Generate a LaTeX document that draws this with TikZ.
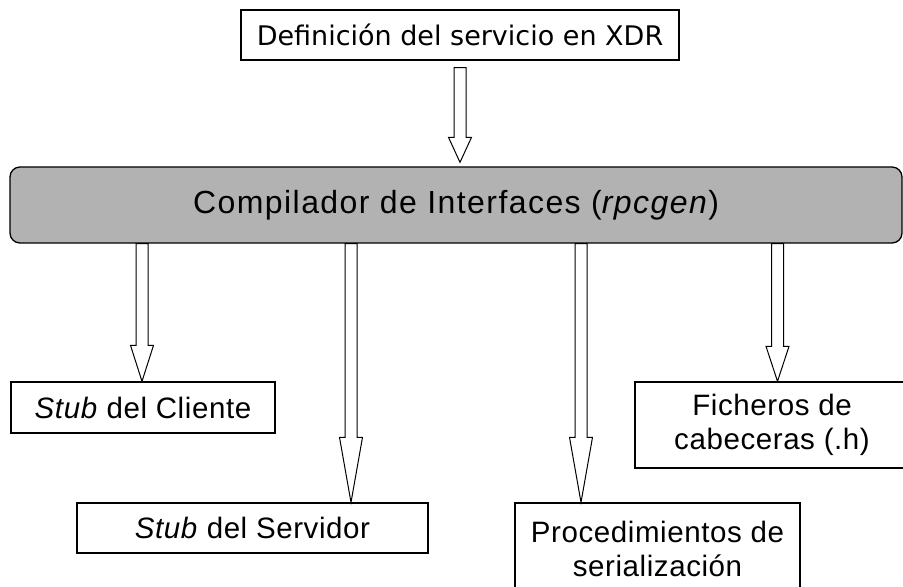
\documentclass[tikz,border=0pt]{standalone}
\usepackage{fontspec}
\setmainfont{Liberation Sans}[LetterSpace=2]
\newfontfamily\xdrfont{DejaVu Sans}
\newfontfamily\compfont{Liberation Sans}[LetterSpace=4.5]
\usetikzlibrary{calc}
\definecolor{grisbloque}{RGB}{178,178,178}
\tikzset{
  caja/.style={draw,line width=1.3bp,fill=white,inner sep=0pt,align=center,
    font=\fontsize{29.5bp}{34bp}\selectfont},
  flechahueca/.style={draw,line width=1bp,fill=white,line join=miter}
}
\begin{document}
\begin{tikzpicture}[x=1bp,y=-1bp]
                \def\flecha(#1,#2,#3,#4){\draw[flechahueca] let \p1=(#2),\p2=(#3) in
                    (#1bp-6bp,\y1)--(#1bp-6bp,\y2+#4bp)--(#1bp-11.5bp,\y2+#4bp)--(#1bp,\y2)
                    --(#1bp+11.5bp,\y2+#4bp)--(#1bp+6bp,\y2+#4bp)--(#1bp+6bp,\y1)--cycle;}
                \useasboundingbox (0,0) rectangle (903,587);
                \clip (0,0) rectangle (903,587);
                %===========================================
                \node[caja,minimum width=438bp,minimum height=50bp,
                    font=\xdrfont\fontsize{27bp}{32bp}\selectfont] (xdr) at (460,35) {Definición del servicio en XDR};
                \node[caja,fill=grisbloque,rounded corners=10bp,minimum width=892bp,minimum height=76bp,
                    font=\compfont\fontsize{32bp}{38bp}\selectfont] (rpcgen) at (456,205) {Compilador de Interfaces (\textit{rpcgen})};
                \node[caja,minimum width=264bp,minimum height=51bp] (cliente) at (143,407.5) {\textit{Stub} del Cliente};
                \node[caja,minimum width=351bp,minimum height=50bp] (servidor) at (252.5,528) {\textit{Stub} del Servidor};
                \node[caja,minimum width=285bp,minimum height=91bp] (serial) at (657.5,548.5) {Procedimientos de\\serialización};
                \node[caja,minimum width=274bp,minimum height=86bp] (cabecera) at (772,425) {Ficheros de\\cabeceras (.h)};
                %===========================================
                \coordinate (a1) at ($(xdr.south)+(0,7)$);
                \coordinate (a2) at ($(rpcgen.north)+(0,-4)$);
                \flecha(460,a1,a2,25)
                \flecha(142,rpcgen.south,cliente.north,36)
                \flecha(351,rpcgen.south,servidor.north,65)
                \flecha(581,rpcgen.south,serial.north,65)
                \flecha(777.5,rpcgen.south,cabecera.north,35)
        \end{tikzpicture}
\end{document}
